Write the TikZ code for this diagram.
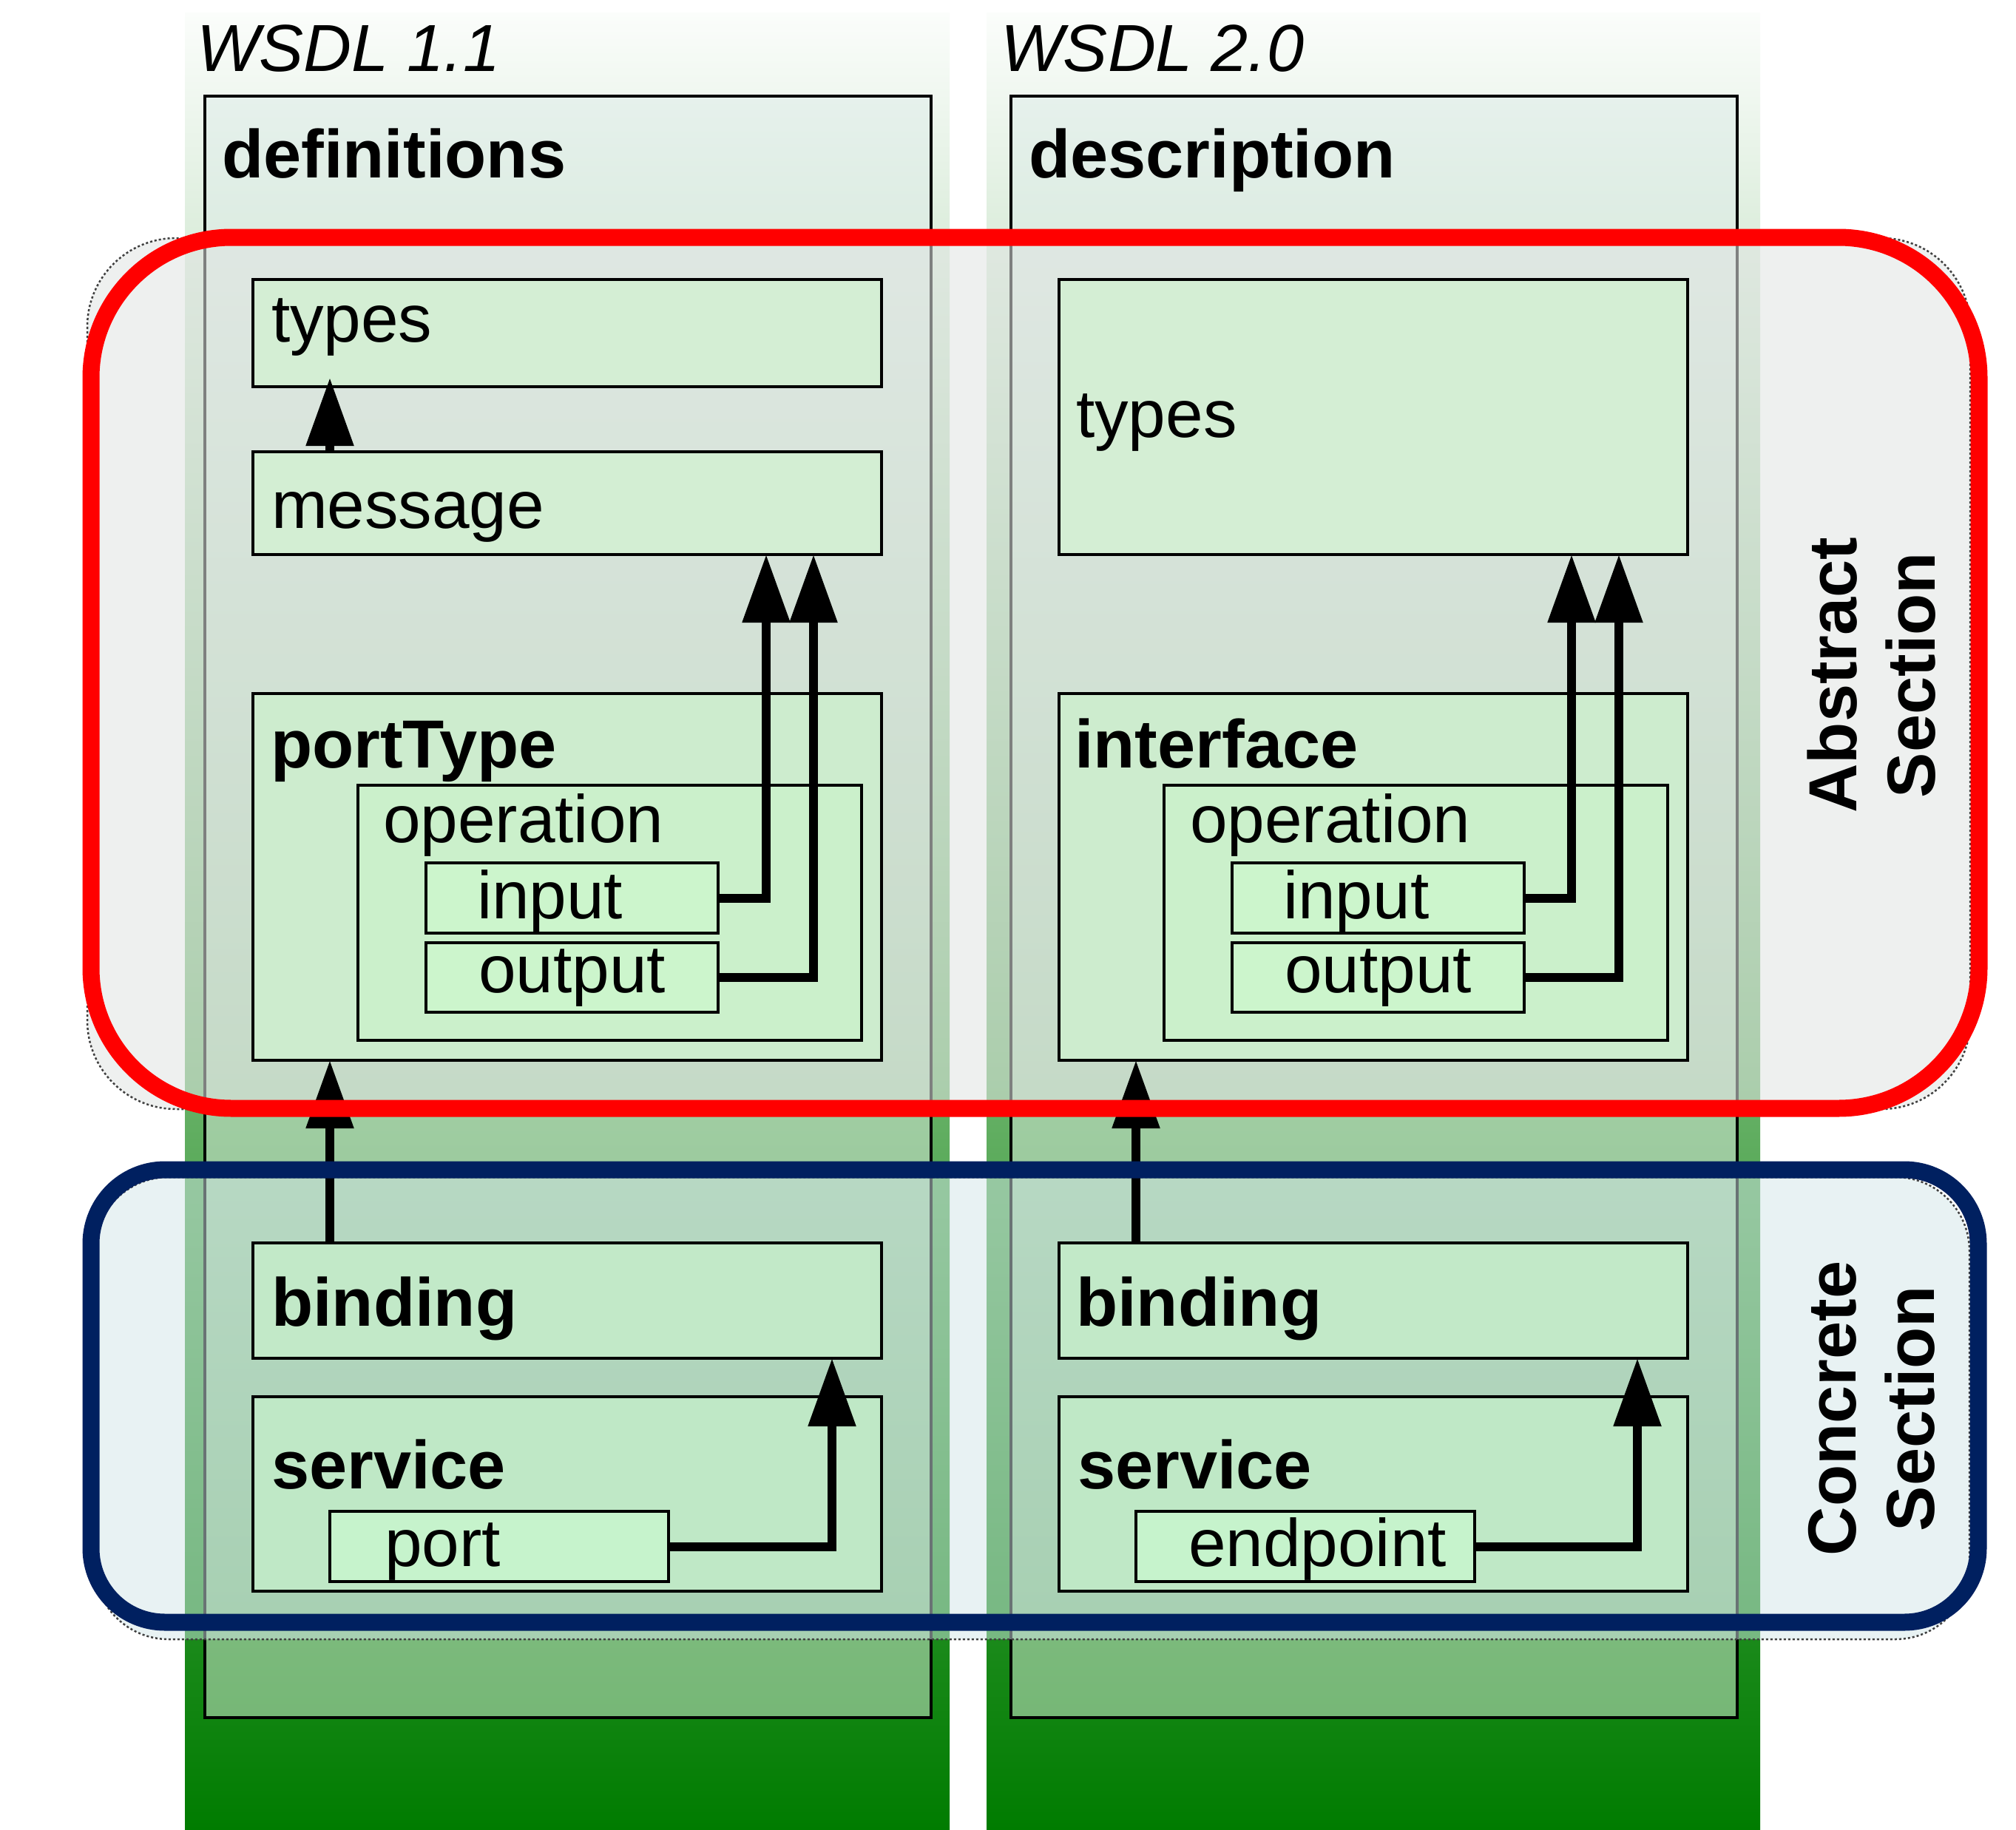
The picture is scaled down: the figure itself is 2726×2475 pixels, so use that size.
\documentclass[tikz,border=0pt]{standalone}
\usepackage{fontspec}
\setmainfont{Liberation Sans}
\usetikzlibrary{arrows.meta,calc}
\definecolor{stripTop}{RGB}{251,253,251}
\definecolor{stripBot}{RGB}{0,124,0}
\definecolor{defTop}{RGB}{230,241,236}
\definecolor{defBot}{RGB}{118,183,118}
\definecolor{absfill}{RGB}{226,229,228}
\definecolor{confill}{RGB}{211,230,233}
\definecolor{navyline}{RGB}{0,32,96}
\definecolor{typesC}{RGB}{212,238,212}
\definecolor{msgC}{RGB}{211,238,211}
\definecolor{ptC}{RGB}{205,236,206}
\definecolor{opC}{RGB}{203,240,203}
\definecolor{ioC}{RGB}{204,245,204}
\definecolor{bindC}{RGB}{194,233,200}
\definecolor{servC}{RGB}{191,232,198}
\definecolor{portC}{RGB}{198,243,204}
\begin{document}
\begin{tikzpicture}[x=1pt,y=-1pt,
  box/.style={draw=black, line width=4.5pt, inner sep=0pt, outer sep=0pt, anchor=north west},
  lbl/.style={inner sep=0pt, outer sep=0pt, anchor=base west, font=\fontsize{91}{100}\selectfont},
  blbl/.style={inner sep=0pt, outer sep=0pt, anchor=base west, font=\fontsize{92}{100}\selectfont\bfseries},
  ilbl/.style={inner sep=0pt, outer sep=0pt, anchor=base west, font=\fontsize{90}{100}\selectfont\itshape},
  sect/.style={inner sep=0pt, outer sep=0pt, rotate=90, align=center, font=\fontsize{92}{106}\selectfont\bfseries},
  conn/.style={line width=12pt, -{Triangle[length=92pt,width=62pt]}},
  secfill/.style={draw=black!75, line width=2.5pt, dash pattern=on 3pt off 3pt},
]
\useasboundingbox (0,0) rectangle (2726,2475);
\fill[white] (0,0) rectangle (2726,2475);

% background strips
\fill[top color=stripTop, bottom color=stripBot] (250,18) rectangle (1284,2475);
\fill[top color=stripTop, bottom color=stripBot] (1334,18) rectangle (2380,2475);

% outer boxes
\node[box, top color=defTop, bottom color=defBot, minimum width=982pt, minimum height=2193pt] (defL) at (277,130) {};
\node[box, top color=defTop, bottom color=defBot, minimum width=982pt, minimum height=2193pt] (defR) at (1367,130) {};

\node[ilbl] (wsdl1) at (266,97) {WSDL 1.1};
\node[ilbl] (wsdl2) at (1353,97) {WSDL 2.0};
\node[blbl] (defLt) at (300,241) {definitions};
\node[blbl] (defRt) at (1391,241) {description};

% section overlays
\filldraw[secfill, fill=absfill, fill opacity=0.56, rounded corners=120pt] (118,322) rectangle (2664,1500);
\filldraw[secfill, fill=confill, fill opacity=0.5, rounded corners=100pt] (128,1592) rectangle (2663,2217);

% left column (WSDL 1.1)
\node[box, fill=typesC, minimum width=850pt, minimum height=145pt] (typesL) at (342,378) {};
\node[lbl] (typesLt) at (367,462) {types};
\node[box, fill=msgC, minimum width=850pt, minimum height=139pt] (msgL) at (342,611) {};
\node[lbl] (msgLt) at (367,714) {message};
\node[box, fill=ptC, minimum width=850pt, minimum height=496pt] (ptL) at (342,938) {};
\node[blbl] (ptLt) at (366,1038) {portType};
\node[box, fill=opC, minimum width=681pt, minimum height=345pt] (opL) at (484,1062) {};
\node[lbl] (opLt) at (518,1139) {operation};
\node[box, fill=ioC, minimum width=395pt, minimum height=95pt] (inL) at (576,1167) {};
\node[lbl] (inLt) at (645,1242) {input};
\node[box, fill=ioC, minimum width=395pt, minimum height=94pt] (outL) at (576,1275) {};
\node[lbl] (outLt) at (647,1342) {output};
\node[box, fill=bindC, minimum width=850pt, minimum height=156pt] (bindL) at (342,1681) {};
\node[blbl] (bindLt) at (367,1793) {binding};
\node[box, fill=servC, minimum width=850pt, minimum height=263pt] (servL) at (342,1889) {};
\node[blbl] (servLt) at (367,2013) {service};
\node[box, fill=portC, minimum width=458pt, minimum height=95pt] (portL) at (446,2044) {};
\node[lbl] (portLt) at (520,2118) {port};

% right column (WSDL 2.0)
\node[box, fill=typesC, minimum width=850pt, minimum height=372pt] (typesR) at (1432,378) {};
\node[lbl] (typesRt) at (1455,591) {types};
\node[box, fill=ptC, minimum width=850pt, minimum height=496pt] (ifR) at (1432,938) {};
\node[blbl] (ifRt) at (1453,1038) {interface};
\node[box, fill=opC, minimum width=681pt, minimum height=345pt] (opR) at (1574,1062) {};
\node[lbl] (opRt) at (1609,1139) {operation};
\node[box, fill=ioC, minimum width=395pt, minimum height=95pt] (inR) at (1666,1167) {};
\node[lbl] (inRt) at (1735,1242) {input};
\node[box, fill=ioC, minimum width=395pt, minimum height=94pt] (outR) at (1666,1275) {};
\node[lbl] (outRt) at (1737,1342) {output};
\node[box, fill=bindC, minimum width=850pt, minimum height=156pt] (bindR) at (1432,1681) {};
\node[blbl] (bindRt) at (1455,1793) {binding};
\node[box, fill=servC, minimum width=850pt, minimum height=263pt] (servR) at (1432,1889) {};
\node[blbl] (servRt) at (1457,2013) {service};
\node[box, fill=portC, minimum width=458pt, minimum height=95pt] (epR) at (1536,2044) {};
\node[lbl] (epRt) at (1607,2118) {endpoint};

% connector columns
\coordinate (xL0) at (446,0);
\coordinate (xL1) at (1036,0);
\coordinate (xL2) at (1100,0);
\coordinate (xL3) at (1125,0);
\coordinate (xR0) at (1536,0);
\coordinate (xR1) at (2125,0);
\coordinate (xR2) at (2189,0);
\coordinate (xR3) at (2214,0);

% connectors left
\draw[conn] (msgL.north -| xL0) -- ($(typesL.south -| xL0)+(0,-12)$);
\draw[conn] (inL.east) -| (xL1 |- msgL.south);
\draw[conn] (outL.east) -| (xL2 |- msgL.south);
\draw[conn] (bindL.north -| xL0) -- (ptL.south -| xL0);
\draw[conn] (portL.east) -| (xL3 |- bindL.south);

% connectors right
\draw[conn] (inR.east) -| (xR1 |- typesR.south);
\draw[conn] (outR.east) -| (xR2 |- typesR.south);
\draw[conn] (bindR.north -| xR0) -- (ifR.south -| xR0);
\draw[conn] (epR.east) -| (xR3 |- bindR.south);

% section outlines
\draw[red, line width=23pt, rounded corners=190pt] (123,321) rectangle (2676,1499);
\draw[navyline, line width=23pt, rounded corners=100pt] (123,1582) rectangle (2675,2194);

\node[sect] (absT) at (2531,913) {Abstract\\Section};
\node[sect] (conT) at (2531,1905) {Concrete\\Section};
\end{tikzpicture}
\end{document}
